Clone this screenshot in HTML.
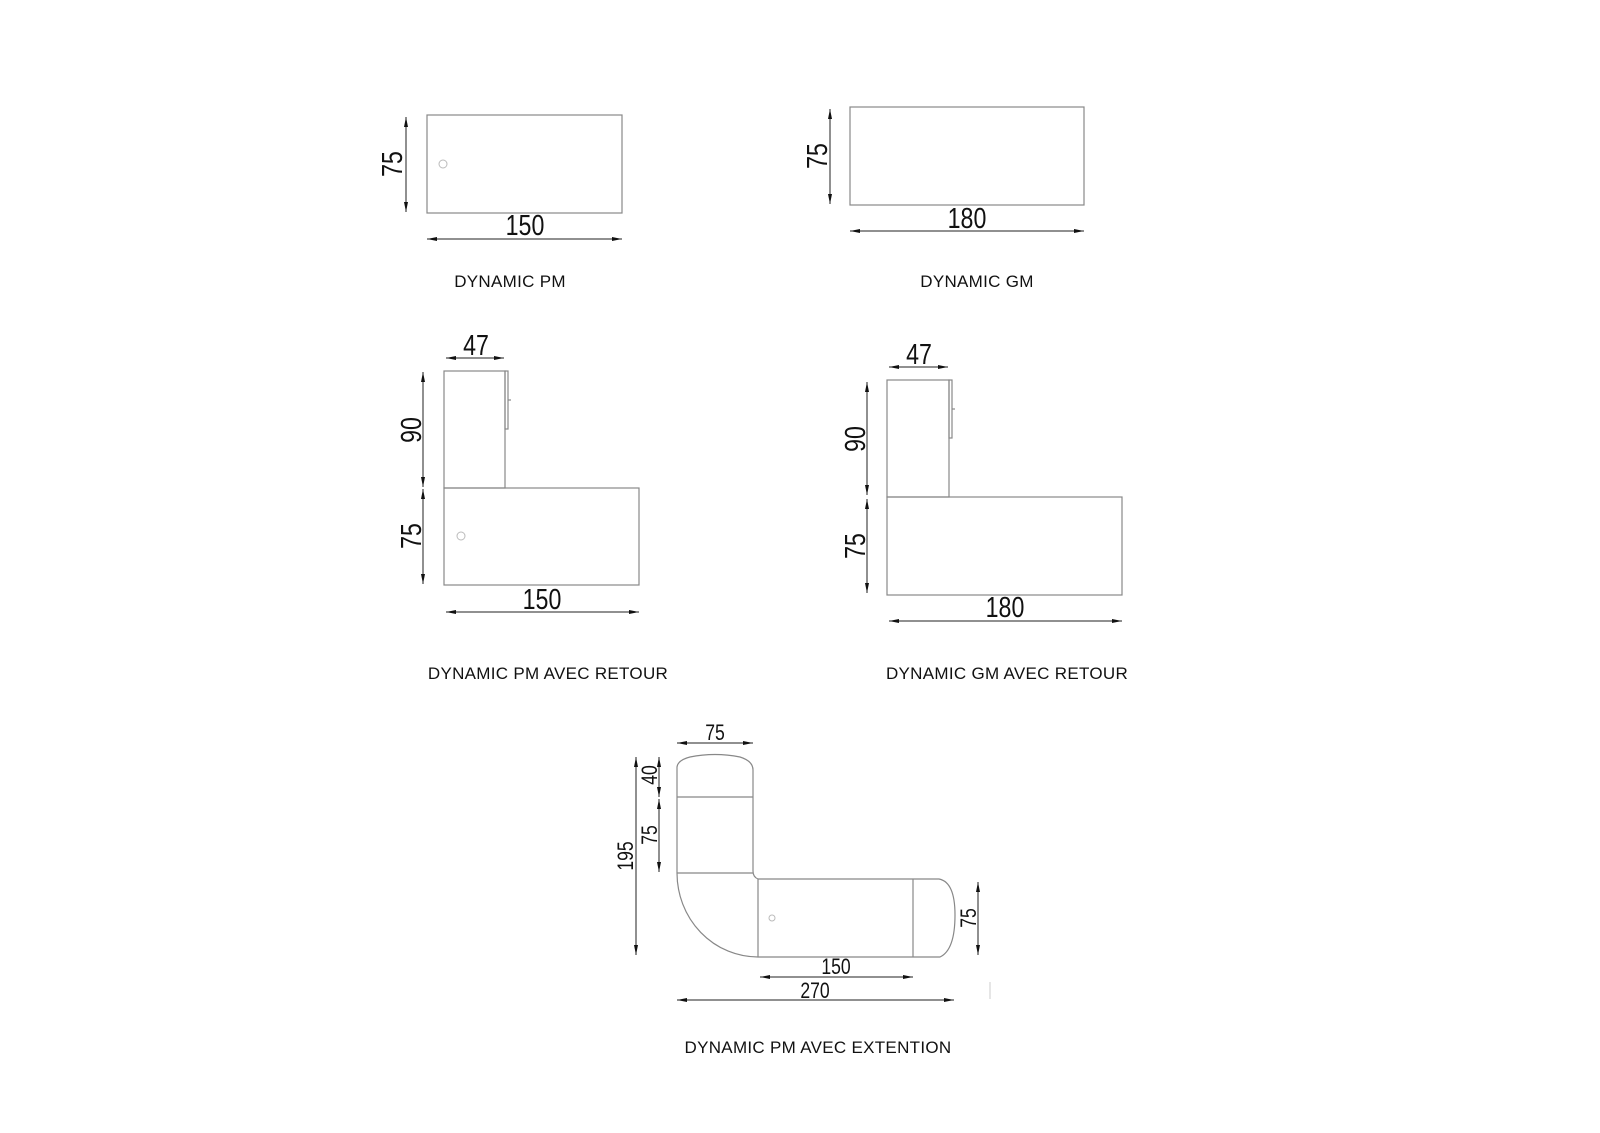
<!DOCTYPE html>
<html><head><meta charset="utf-8"><style>
html,body{margin:0;padding:0;background:#fff;}
svg{display:block;}
.d{font-family:"Liberation Sans",sans-serif;fill:#111;}
.t{font-family:"Liberation Sans",sans-serif;font-size:17px;fill:#111;text-anchor:middle;letter-spacing:0.3px;}
.s{fill:none;stroke:#888;stroke-width:1.2;}
.k{fill:none;stroke:#222;stroke-width:1;}
</style></head><body>
<svg width="1600" height="1133" viewBox="0 0 1600 1133" xmlns="http://www.w3.org/2000/svg">
<defs>
<marker id="a" viewBox="0 0 10 4" refX="10" refY="2" markerWidth="10" markerHeight="4" markerUnits="userSpaceOnUse" orient="auto-start-reverse"><path d="M0,0 L10,2 L0,4 Z" fill="#111"/></marker>
</defs>

<!-- Diagram 1 -->
<rect class="s" x="427" y="115" width="195" height="98"/>
<circle cx="443" cy="164" r="4" fill="none" stroke="#bbb"/>
<line class="k" x1="406" y1="117" x2="406" y2="212" marker-start="url(#a)" marker-end="url(#a)"/>
<text class="d" transform="translate(402,164) rotate(-90) scale(0.8,1)" font-size="29" text-anchor="middle">75</text>
<line class="k" x1="427" y1="239" x2="622" y2="239" marker-start="url(#a)" marker-end="url(#a)"/>
<text class="d" transform="translate(525,235) scale(0.8,1)" font-size="29" text-anchor="middle">150</text>
<text class="t" x="510" y="287">DYNAMIC PM</text>

<!-- Diagram 2 -->
<rect class="s" x="850" y="107" width="234" height="98"/>
<line class="k" x1="830" y1="109" x2="830" y2="204" marker-start="url(#a)" marker-end="url(#a)"/>
<text class="d" transform="translate(827,156) rotate(-90) scale(0.8,1)" font-size="29" text-anchor="middle">75</text>
<line class="k" x1="850" y1="231" x2="1084" y2="231" marker-start="url(#a)" marker-end="url(#a)"/>
<text class="d" transform="translate(967,228) scale(0.8,1)" font-size="29" text-anchor="middle">180</text>
<text class="t" x="977" y="287">DYNAMIC GM</text>

<!-- Diagram 3 -->
<rect class="s" x="444" y="371" width="61" height="117"/>
<rect class="s" x="505" y="371" width="3" height="58"/>
<line class="s" x1="508" y1="400" x2="511" y2="400"/>
<rect class="s" x="444" y="488" width="195" height="97"/>
<circle cx="461" cy="536" r="4" fill="none" stroke="#bbb"/>
<line class="k" x1="446" y1="358" x2="504" y2="358" marker-start="url(#a)" marker-end="url(#a)"/>
<text class="d" transform="translate(476,355) scale(0.8,1)" font-size="29" text-anchor="middle">47</text>
<line class="k" x1="423" y1="372" x2="423" y2="487" marker-start="url(#a)" marker-end="url(#a)"/>
<line class="k" x1="423" y1="489" x2="423" y2="584" marker-start="url(#a)" marker-end="url(#a)"/>
<text class="d" transform="translate(421,430) rotate(-90) scale(0.8,1)" font-size="29" text-anchor="middle">90</text>
<text class="d" transform="translate(421,536) rotate(-90) scale(0.8,1)" font-size="29" text-anchor="middle">75</text>
<line class="k" x1="446" y1="612" x2="639" y2="612" marker-start="url(#a)" marker-end="url(#a)"/>
<text class="d" transform="translate(542,609) scale(0.8,1)" font-size="29" text-anchor="middle">150</text>
<text class="t" x="548" y="679">DYNAMIC PM AVEC RETOUR</text>

<!-- Diagram 4 -->
<rect class="s" x="887" y="380" width="62" height="117"/>
<rect class="s" x="949" y="380" width="3" height="58"/>
<line class="s" x1="952" y1="409" x2="955" y2="409"/>
<rect class="s" x="887" y="497" width="235" height="98"/>
<line class="k" x1="889" y1="367" x2="948" y2="367" marker-start="url(#a)" marker-end="url(#a)"/>
<text class="d" transform="translate(919,364) scale(0.8,1)" font-size="29" text-anchor="middle">47</text>
<line class="k" x1="867" y1="382" x2="867" y2="495" marker-start="url(#a)" marker-end="url(#a)"/>
<line class="k" x1="867" y1="499" x2="867" y2="593" marker-start="url(#a)" marker-end="url(#a)"/>
<text class="d" transform="translate(865,439) rotate(-90) scale(0.8,1)" font-size="29" text-anchor="middle">90</text>
<text class="d" transform="translate(865,546) rotate(-90) scale(0.8,1)" font-size="29" text-anchor="middle">75</text>
<line class="k" x1="889" y1="621" x2="1122" y2="621" marker-start="url(#a)" marker-end="url(#a)"/>
<text class="d" transform="translate(1005,617) scale(0.8,1)" font-size="29" text-anchor="middle">180</text>
<text class="t" x="1007" y="679">DYNAMIC GM AVEC RETOUR</text>

<!-- Diagram 5 -->
<path class="s" d="M677,873 L677,767 Q678,760 690,757 Q715,752 740,757 Q753,761 753,770 L753,871 Q753,877 758,879 L939,879 Q955,882 955,915 Q955,950 940,957 L758,957 A81 84 0 0 1 677,873 Z"/>
<line class="s" x1="677" y1="797" x2="753" y2="797"/>
<line class="s" x1="677" y1="873" x2="753" y2="873"/>
<line class="s" x1="758" y1="879" x2="758" y2="957"/>
<line class="s" x1="913" y1="879" x2="913" y2="957"/>
<circle cx="772" cy="918" r="3" fill="none" stroke="#bbb"/>
<line class="k" x1="677" y1="743" x2="753" y2="743" marker-start="url(#a)" marker-end="url(#a)"/>
<text class="d" transform="translate(715,740) scale(0.8,1)" font-size="22" text-anchor="middle">75</text>
<line class="k" x1="636" y1="757" x2="636" y2="955" marker-start="url(#a)" marker-end="url(#a)"/>
<text class="d" transform="translate(633,856) rotate(-90) scale(0.8,1)" font-size="22" text-anchor="middle">195</text>
<line class="k" x1="659" y1="757" x2="659" y2="797" marker-start="url(#a)" marker-end="url(#a)"/>
<text class="d" transform="translate(657,775) rotate(-90) scale(0.8,1)" font-size="22" text-anchor="middle">40</text>
<line class="k" x1="659" y1="799" x2="659" y2="872" marker-start="url(#a)" marker-end="url(#a)"/>
<text class="d" transform="translate(657,835) rotate(-90) scale(0.8,1)" font-size="22" text-anchor="middle">75</text>
<line class="k" x1="978" y1="882" x2="978" y2="955" marker-start="url(#a)" marker-end="url(#a)"/>
<text class="d" transform="translate(976,918) rotate(-90) scale(0.8,1)" font-size="22" text-anchor="middle">75</text>
<line class="k" x1="760" y1="977" x2="913" y2="977" marker-start="url(#a)" marker-end="url(#a)"/>
<text class="d" transform="translate(836,974) scale(0.8,1)" font-size="22" text-anchor="middle">150</text>
<line class="k" x1="677" y1="1000" x2="954" y2="1000" marker-start="url(#a)" marker-end="url(#a)"/>
<text class="d" transform="translate(815,998) scale(0.8,1)" font-size="22" text-anchor="middle">270</text>
<line x1="990" y1="982" x2="990" y2="999" stroke="#ccc" stroke-width="1"/>
<text class="t" x="818" y="1053">DYNAMIC PM AVEC EXTENTION</text>
</svg>
</body></html>
